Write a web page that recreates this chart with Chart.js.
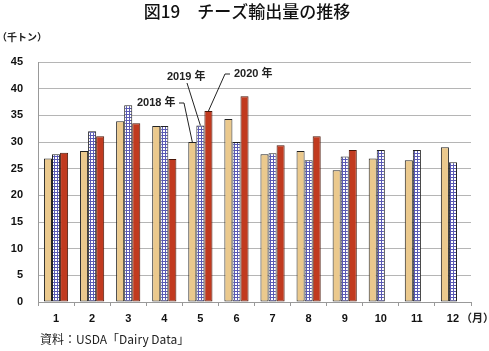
<!DOCTYPE html>
<html>
<head>
<meta charset="utf-8">
<script src="https://cdn.jsdelivr.net/npm/chart.js@4/dist/chart.umd.min.js"></script>
<style>
  html, body { margin: 0; padding: 0; background: #fff; }
  #wrap { width: 489px; height: 351px; }
</style>
</head>
<body>
<div id="wrap"><canvas id="myChart" width="489" height="351"></canvas></div>
<script>
var months = ['1', '2', '3', '4', '5', '6', '7', '8', '9', '10', '11', '12'];
var years = ['2018 年', '2019 年', '2020 年'];
var exports2018 = [26.9, 28.3, 33.9, 33.0, 30.0, 34.3, 27.7, 28.3, 24.7, 26.9, 26.6, 29.0];
var exports2019 = [27.7, 32.0, 36.9, 33.0, 33.1, 30.0, 27.9, 26.6, 27.3, 28.5, 28.5, 26.2];
var exports2020 = [28.0, 31.1, 33.5, 26.8, 35.8, 38.6, 29.4, 31.1, 28.5, null, null, null];

var JP = "'Noto Sans CJK JP', sans-serif";
var NUM = "'Liberation Sans', 'Noto Sans CJK JP', sans-serif";

// checkered fill for 2019
function gridPattern() {
    var c = document.createElement('canvas');
    c.width = 3; c.height = 3;
    var g = c.getContext('2d');
    g.fillStyle = '#ffffff';
    g.fillRect(0, 0, 3, 3);
    g.fillStyle = '#5a5ab4';
    g.fillRect(0, 0, 3, 1);
    g.fillRect(0, 0, 1, 3);
    return g.createPattern(c, 'repeat');
}

// labels with leader lines pointing to month 5 bars
var notes = [
    { ds: 0, text: years[0], x: 137, y: 103, dash: [179, 103, 184, 103], from: [184, 103] },
    { ds: 1, text: years[1], x: 167, y: 77, dash: null, from: [187, 83] },
    { ds: 2, text: years[2], x: 234, y: 74, dash: [225, 74, 230, 74], from: [225, 74] }
];

var extras = {
    id: 'extras',
    afterDatasetsDraw: function(chart) {
        var ctx = chart.ctx;
        ctx.save();
        ctx.strokeStyle = '#222';
        ctx.lineWidth = 1;
        ctx.fillStyle = '#222';
        ctx.font = 'bold 11px ' + NUM;
        ctx.textBaseline = 'middle';
        ctx.textAlign = 'left';
        notes.forEach(function(n) {
            var bar = chart.getDatasetMeta(n.ds).data[4];
            ctx.beginPath();
            if (n.dash) {
                ctx.moveTo(n.dash[0], n.dash[1]);
                ctx.lineTo(n.dash[2], n.dash[3]);
            }
            ctx.moveTo(n.from[0], n.from[1]);
            ctx.lineTo(bar.x, bar.y);
            ctx.stroke();
            ctx.fillText(n.text, n.x, n.y);
        });

        ctx.font = 'bold 10px ' + JP;
        ctx.fillText('（千トン）', -3, 37);
        ctx.font = 'bold 11px ' + JP;
        ctx.fillText('（月）', 461, 318);
        ctx.font = '12px ' + JP;
        ctx.fillText('資料：USDA「Dairy Data」', 40, 339);

        ctx.fillStyle = '#111';
        ctx.font = '500 17px ' + JP;
        ctx.textAlign = 'center';
        ctx.fillText('図19　チーズ輸出量の推移', 247, 12);
        ctx.restore();
    }
};

window.onload = function() {
    var ctx = document.getElementById('myChart').getContext('2d');
    window.myBar = new Chart(ctx, {
        type: 'bar',
        data: {
            labels: months,
            datasets: [
                { label: years[0], data: exports2018, backgroundColor: '#ebc98d', borderColor: '#222', borderWidth: 1, borderSkipped: false },
                { label: years[1], data: exports2019, backgroundColor: gridPattern(), borderColor: '#222', borderWidth: 1, borderSkipped: false },
                { label: years[2], data: exports2020, backgroundColor: '#c13a1f', borderColor: '#4a1608', borderWidth: 1, borderSkipped: false }
            ]
        },
        options: {
            responsive: false,
            animation: false,
            layout: { padding: { left: 0, right: 18, top: 62, bottom: 19 } },
            categoryPercentage: 0.67,
            barPercentage: 1.0,
            plugins: {
                legend: { display: false },
                tooltip: { enabled: false },
                title: { display: false }
            },
            scales: {
                x: {
                    grid: { drawOnChartArea: false, drawTicks: true, tickLength: 4, color: '#999', offset: true },
                    border: { color: '#999' },
                    ticks: { color: '#111', padding: 6, font: { family: NUM, size: 11, weight: 'bold' }, maxRotation: 0 },
                    afterFit: function(s) { s.height = 30; }
                },
                y: {
                    min: 0, max: 45,
                    ticks: { stepSize: 5, color: '#111', padding: 15, font: { family: NUM, size: 11, weight: 'bold' } },
                    grid: { color: '#b5b5b5', drawTicks: false },
                    border: { color: '#999' },
                    afterFit: function(s) { s.width = 38; }
                }
            }
        },
        plugins: [extras]
    });
};
</script>
</body>
</html>
